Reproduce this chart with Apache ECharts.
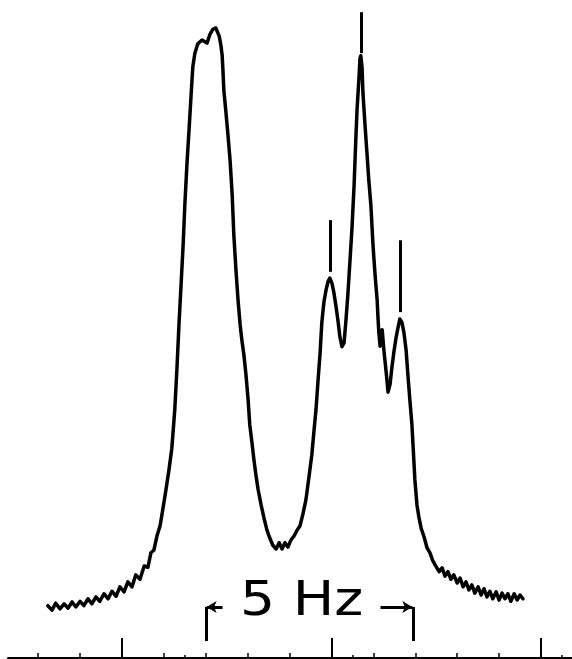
<!DOCTYPE html>
<html>
<head>
<meta charset="utf-8">
<script src="https://cdn.jsdelivr.net/npm/echarts@6/dist/echarts.min.js"></script>
<style>
html,body{margin:0;padding:0;background:#fff;}
#chart{width:572px;height:659px;}
</style>
</head>
<body>
<div id="chart"></div>
<script>
// Frequency (Hz, relative to the first major tick) and relative intensity (tallest peak = 100)
const freqHz = [
-1.77,-1.67,-1.58,-1.48,-1.38,-1.29,-1.19,-1.10,-1.00,-0.91,
-0.81,-0.72,-0.62,-0.53,-0.43,-0.33,-0.24,-0.14,-0.05,0.05,
0.14,0.24,0.33,0.43,0.53,0.62,0.69,0.76,0.84,0.91,
0.98,1.05,1.12,1.19,1.26,1.31,1.36,1.41,1.46,1.50,
1.55,1.60,1.65,1.69,1.74,1.81,1.91,1.98,2.03,2.10,
2.17,2.24,2.32,2.36,2.39,2.41,2.43,2.48,2.53,2.58,
2.63,2.67,2.72,2.77,2.82,2.86,2.91,2.96,3.01,3.05,
3.10,3.15,3.20,3.25,3.32,3.39,3.46,3.53,3.60,3.68,
3.75,3.82,3.89,3.96,4.03,4.11,4.18,4.25,4.32,4.39,
4.46,4.53,4.58,4.63,4.68,4.73,4.77,4.82,4.87,4.92,
4.96,5.01,5.06,5.11,5.16,5.20,5.25,5.30,5.35,5.39,
5.44,5.49,5.54,5.58,5.61,5.66,5.68,5.70,5.73,5.75,
5.80,5.85,5.89,5.94,5.99,6.04,6.09,6.11,6.13,6.16,
6.18,6.21,6.25,6.30,6.35,6.40,6.44,6.49,6.54,6.59,
6.63,6.68,6.73,6.78,6.83,6.87,6.92,6.95,6.99,7.04,
7.09,7.14,7.21,7.28,7.35,7.42,7.49,7.57,7.64,7.71,
7.78,7.85,7.92,8.00,8.07,8.14,8.21,8.28,8.35,8.42,
8.50,8.57,8.64,8.71,8.78,8.85,8.93,9.00,9.07,9.14,
9.21,9.28,9.36,9.43,9.50,9.57
];
const intensity = [
8.3,7.6,8.7,7.8,8.6,7.9,8.9,8.1,9.0,8.3,
9.4,8.6,9.7,9.0,10.2,9.4,10.6,9.8,11.3,10.5,
12.1,11.3,13.2,12.5,14.6,14.4,16.7,17.1,19.5,21.0,
23.8,26.7,29.8,33.3,39.4,45.7,52.9,59.2,65.6,71.9,
78.3,83.8,89.4,93.8,96.0,97.5,98.1,97.8,97.6,99.0,
99.8,100.0,98.7,97.3,95.7,93.3,90.2,86.7,83.0,79.0,
73.5,67.1,61.6,56.8,52.9,50.5,48.1,44.9,41.0,37.0,
34.3,31.4,28.9,26.7,24.3,22.2,20.3,19.0,17.9,17.3,
18.3,17.3,18.3,17.6,18.7,19.4,20.3,21.0,22.9,25.1,
28.6,32.2,35.9,39.4,44.1,48.6,53.3,56.5,58.4,59.8,
60.3,59.5,57.9,55.7,53.3,51.0,49.4,50.0,54.0,57.6,
62.9,68.3,75.1,82.2,87.0,92.5,95.2,95.6,93.7,89.8,
84.6,79.8,75.9,71.9,65.6,60.8,56.8,54.0,51.7,49.5,
51.6,52.1,48.9,45.7,42.2,43.5,46.0,48.6,50.8,52.5,
53.8,53.3,51.6,48.9,44.4,41.0,37.0,33.3,28.3,24.3,
22.2,20.6,19.2,17.5,16.7,15.4,14.6,13.7,14.3,13.0,
13.7,12.5,13.2,11.9,12.7,11.3,12.1,10.8,11.6,10.3,
11.3,10.0,11.0,9.7,10.6,9.4,10.5,9.2,10.3,9.4,
10.2,9.0,10.2,9.2,10.0,9.4
];
// Peak marker lines above the multiplet lines
const peakMarkHz = [4.96, 5.70, 6.63];
const peakMarkBottom = [61.3, 96.0, 54.9];
const peakMarkTop = [69.5, 102.5, 66.3];
// Frequency scale ticks (Hz)
const majorTicksHz = [0, 5, 10];
const minorTicksHz = [-2, -1, 1, 2, 3, 4, 6, 7, 8, 9];
const halfTicksHz = [1.5, 5.5, 10.5];
// 5 Hz scale bracket
const bracketHz = [2.0, 6.95];
const scaleLabel = '5 Hz';

const X_MIN = -2.72, X_MAX = 10.74, Y_MAX = 104.44;
const chart = echarts.init(document.getElementById('chart'), null, {renderer: 'canvas'});

const spectrum = freqHz.map((f, i) => [f, intensity[i]]);
const peakLines = peakMarkHz.map((f, i) => [
  {coord: [f, peakMarkBottom[i]]}, {coord: [f, peakMarkTop[i]]}
]);
const arrowY = 8.1, bracketBottom = 2.7;
const bracketLines = [
  [{coord: [bracketHz[0], arrowY]}, {coord: [bracketHz[0], bracketBottom]}],
  [{coord: [bracketHz[1], arrowY]}, {coord: [bracketHz[1], bracketBottom]}]
];
const arrowLines = [
  [{coord: [bracketHz[0] + 0.40, arrowY]}, {coord: [bracketHz[0] + 0.02, arrowY]}],
  [{coord: [bracketHz[1] - 0.78, arrowY]}, {coord: [bracketHz[1] - 0.02, arrowY]}]
];

function tickAxis(values, len, width, showLine) {
  return {
    type: 'value', min: X_MIN, max: X_MAX, position: 'bottom',
    axisLine: {show: showLine, onZero: false, lineStyle: {color: '#000', width: 2}},
    axisTick: {show: true, inside: true, length: len, customValues: values,
               lineStyle: {color: '#000', width: width}},
    axisLabel: {show: false},
    splitLine: {show: false}
  };
}

chart.setOption({
  animation: false,
  backgroundColor: '#fff',
  grid: {left: 8, right: 0, top: 0, bottom: 1},
  xAxis: [
    tickAxis(majorTicksHz, 20, 2, true),
    tickAxis(minorTicksHz, 5, 1.5, false),
    tickAxis(halfTicksHz, 3, 1.5, false)
  ],
  yAxis: {type: 'value', min: 0, max: Y_MAX, show: false},
  series: [
    {
      type: 'line', data: spectrum, showSymbol: false, symbol: 'none',
      lineStyle: {color: '#000', width: 3.5, join: 'round', cap: 'round'},
      markLine: {
        silent: true, symbol: 'none', animation: false,
        label: {show: false},
        lineStyle: {color: '#000', width: 3, type: 'solid'},
        data: peakLines.concat(bracketLines)
      }
    },
    {
      type: 'line', data: [], showSymbol: false,
      markLine: {
        silent: true, symbol: ['none', 'arrow'], symbolSize: [9, 10], animation: false,
        label: {show: false},
        lineStyle: {color: '#000', width: 3, type: 'solid'},
        data: arrowLines
      }
    }
  ],
  graphic: [{
    type: 'text', left: 240, top: 579, scaleX: 1.15,
    style: {text: scaleLabel, fill: '#000', font: '48px "DejaVu Sans"'}
  }]
});
</script>
</body>
</html>
